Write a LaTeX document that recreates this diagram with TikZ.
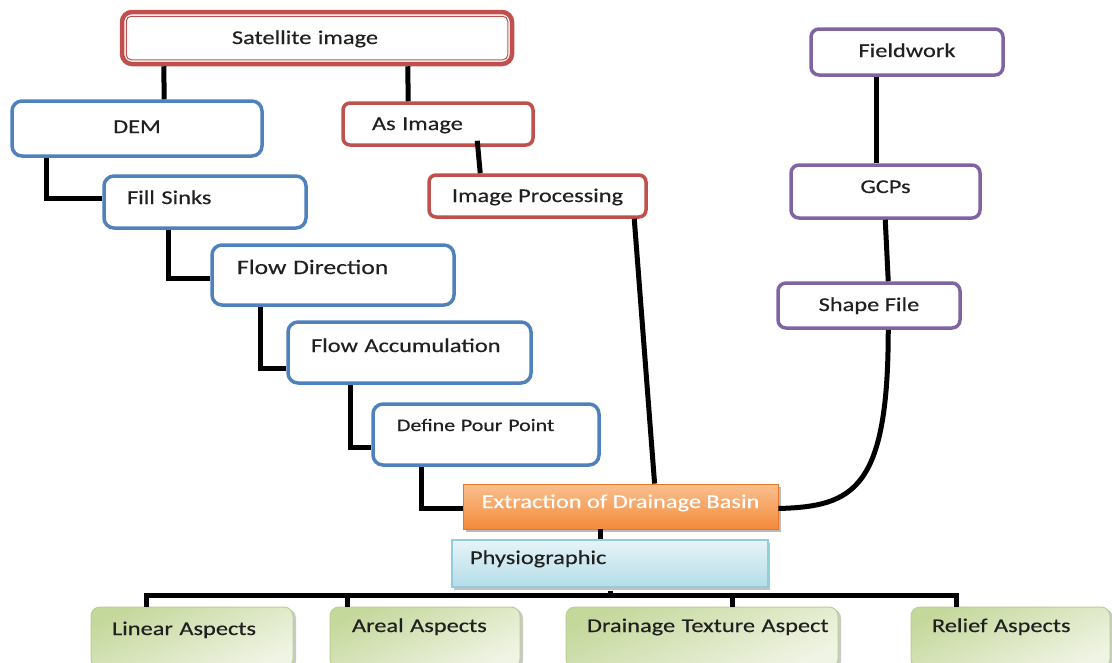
\documentclass[tikz,border=0pt]{standalone}
\usepackage{fontspec}
\setmainfont[FakeStretch=1.25,FakeBold=0.4]{Carlito}
\usetikzlibrary{shadows,calc}
\definecolor{rd}{HTML}{C0504D}
\definecolor{blu}{HTML}{4F81BD}
\definecolor{pur}{HTML}{8064A2}
\definecolor{txt}{HTML}{202020}
\definecolor{orT}{HTML}{FAC08F}
\definecolor{orB}{HTML}{F38A3A}
\definecolor{orD}{HTML}{E8772A}
\definecolor{phT}{HTML}{E6F4F8}
\definecolor{phB}{HTML}{B5DCE8}
\definecolor{phD}{HTML}{93CDDD}
\definecolor{grT}{HTML}{C5D89C}
\definecolor{grB}{HTML}{F0F4E4}
\definecolor{grD}{HTML}{BCCF92}
\tikzset{
  base/.style={rectangle, font=\fontsize{19.5}{23}\selectfont, text=txt, inner sep=0pt,
               text height=13pt, text depth=1pt},
  up/.style={text depth=#1},
  lt/.style={align=left, text width=#1},
  bluebox/.style={base, draw=blu, line width=3.5pt, rounded corners=10pt, fill=white},
  redbox/.style={base, draw=rd, line width=3.5pt, rounded corners=7pt, fill=white},
  purbox/.style={base, draw=pur, line width=3.5pt, rounded corners=8pt, fill=white},
  orbox/.style={base, draw=orD, line width=0.8pt, top color=orT, bottom color=orB, text=white,
                drop shadow={shadow xshift=3pt, shadow yshift=-3pt, fill=black!45, opacity=0.6}},
  phbox/.style={base, draw=phD, line width=1.5pt, top color=phT, bottom color=phB,
                drop shadow={shadow xshift=2pt, shadow yshift=-3pt, fill=black!40, opacity=0.6}},
  grbox/.style={base, draw=grD, line width=1pt, rounded corners=9pt, shading=axis,
                top color=grT, bottom color=grB, shading angle=25,
                drop shadow={shadow xshift=3pt, shadow yshift=-2pt, fill=black!35, opacity=0.6}},
  conn/.style={line width=5pt, draw=black, line cap=butt, line join=miter}
}
\begin{document}
\begin{tikzpicture}[x=1pt,y=1pt]
\clip (0,0) rectangle (1112,-662);
\fill[white] (0,0) rectangle (1112,-662);

% red branch
\node[redbox, line width=4.5pt, rounded corners=10pt, minimum width=390, minimum height=52,
      lt=366, align=center] (sat) at (317,-38) {\hspace*{-24pt}Satellite image};
\draw[rd, line width=1pt, rounded corners=5pt] ([shift={(6.5,-6.5)}]sat.north west) rectangle ([shift={(-6.5,6.5)}]sat.south east);
\node[redbox, minimum width=190, minimum height=42, lt=132] (as) at (438,-124) {As Image};
\node[redbox, minimum width=217, minimum height=42] (ip) at (537.5,-196) {Image Processing};

% blue branch
\node[bluebox, minimum width=250, minimum height=55, up=4pt] (dem) at (137,-128.5) {DEM};
\node[bluebox, minimum width=202, minimum height=52, lt=156, up=9pt] (fill) at (205,-202) {Fill Sinks};
\node[bluebox, minimum width=242, minimum height=60, lt=192, up=15pt,
      font=\fontsize{20.5}{24}\selectfont] (fd) at (333,-275) {Flow Direction};
\node[bluebox, minimum width=243, minimum height=61, lt=197, up=14pt] (fa) at (409.5,-352.5) {Flow Accumulation};
\node[bluebox, minimum width=226, minimum height=61, lt=178, up=20pt,
      font=\fontsize{17.5}{21}\selectfont] (dpp) at (486,-434.5) {Define Pour Point};

% purple branch
\node[purbox, minimum width=192, minimum height=46, up=3pt] (fw) at (907,-52) {Fieldwork};
\node[purbox, minimum width=189, minimum height=53, up=10pt] (gcp) at (885.5,-191.5) {GCPs};
\node[purbox, minimum width=182, minimum height=45, up=2pt] (shp) at (869,-305.5) {Shape File};

% centre
\node[orbox, minimum width=315, minimum height=45, up=10pt] (ext) at (620.5,-506.5) {Extraction of Drainage Basin};
\node[phbox, minimum width=316, minimum height=47, lt=280, up=12pt] (phys) at (610,-563.5) {Physiographic};

% bottom
\node[grbox, minimum width=202, minimum height=61, lt=160, up=18pt] (lin) at (192,-637.5) {Linear Aspects};
\node[grbox, minimum width=190, minimum height=61, lt=146, up=24pt] (are) at (425,-637.5) {Areal Aspects};
\node[grbox, minimum width=272, minimum height=61, lt=230, up=24pt] (drn) at (702,-637.5) {\mbox{Drainage Texture Aspect}};
\node[grbox, minimum width=199, minimum height=61, lt=157, up=24pt] (rel) at (1010.5,-637.5) {Relief Aspects};

% connectors
\draw[conn] ([xshift=44]sat.south west) -- ([xshift=154]dem.north west);
\draw[conn] ([xshift=288]sat.south west) -- ([xshift=67]as.north west);
\draw[conn] ([xshift=136,yshift=6]as.south west) -- ([xshift=53]ip.north west);
\draw[conn] ([xshift=36]dem.south west) |- ([yshift=4]fill.west);
\draw[conn] ([xshift=66]fill.south west) |- ([yshift=-3]fd.west);
\draw[conn] ([xshift=50]fd.south west) |- ([yshift=-15.5]fa.west);
\draw[conn] ([xshift=64]fa.south west) |- ([yshift=-12.5]dpp.west);
\draw[conn] ([xshift=50]dpp.south west) |- ([yshift=-1.5]ext.west);
\draw[conn] ([xshift=207]ip.south west) -- ([xshift=192]ext.north west);
\draw[conn] ([xshift=67]fw.south west) -- ([xshift=87]gcp.north west);
\draw[conn] ([xshift=96]gcp.south west) -- ([xshift=112]shp.north west);
\draw[conn, line join=round] ([xshift=112]shp.south west) .. controls +(0,-160) and +(75,2) .. ([yshift=-2]ext.east);
\draw[conn] ([xshift=-20.5]ext.south) -- ([xshift=-10]phys.north);
\draw[conn] ([yshift=-3]phys.south) -- ++(0,-7);
\draw[conn] ([xshift=56]lin.north west) |- ([xshift=46,yshift=11]rel.north west) -- ([xshift=46]rel.north west);
\draw[conn] ([xshift=18]are.north west) -- ++(0,11);
\draw[conn] ([xshift=167]drn.north west) -- ++(0,11);
\end{tikzpicture}
\end{document}
